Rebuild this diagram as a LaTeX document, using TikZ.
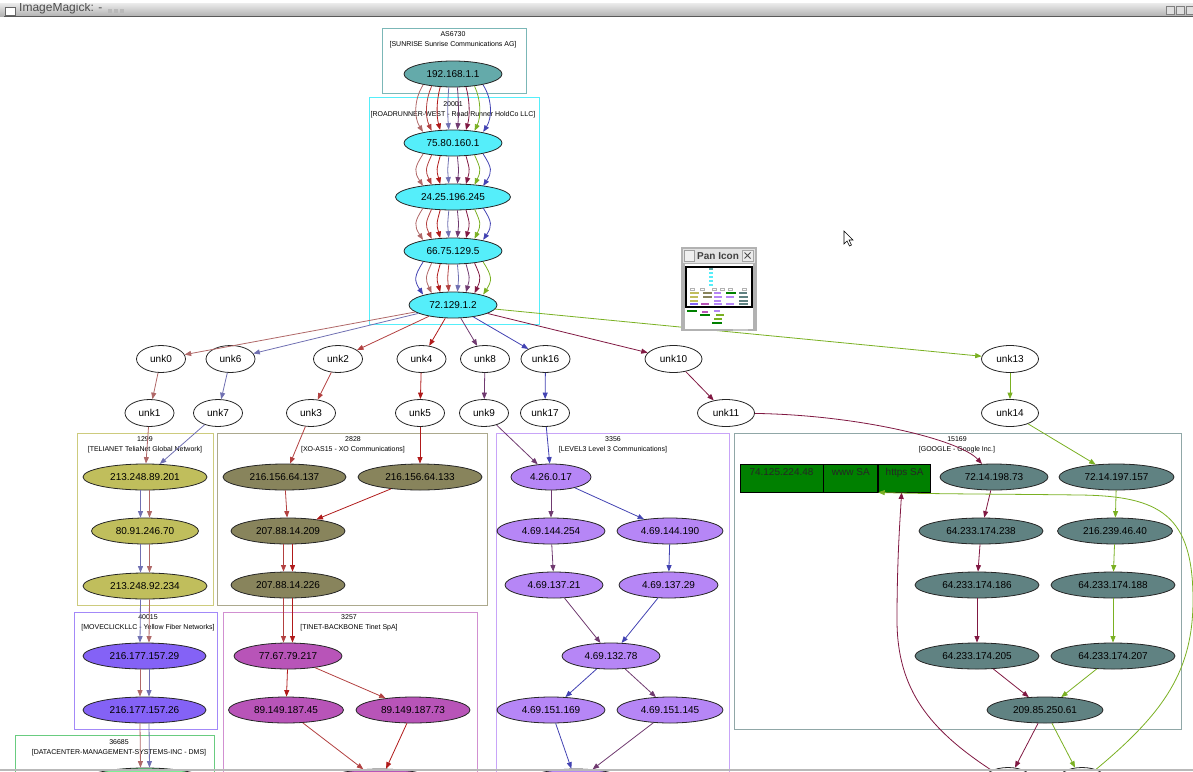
\documentclass[tikz,border=0pt]{standalone}
\usepackage{fontspec}
\setmainfont{Liberation Sans}
\usepackage{tikz}
\usetikzlibrary{arrows.meta,positioning,shapes.geometric}

% AS fills
\definecolor{asteal}{RGB}{100,170,170}
\definecolor{rrcyan}{RGB}{85,238,250}
\definecolor{teliaol}{RGB}{192,190,92}
\definecolor{xool}{RGB}{136,132,92}
\definecolor{moveblue}{RGB}{132,98,246}
\definecolor{tinetmg}{RGB}{184,84,184}
\definecolor{lvlpurp}{RGB}{182,134,246}
\definecolor{googsl}{RGB}{96,130,130}
\definecolor{dmsgreen}{RGB}{124,240,150}
\definecolor{recgreen}{RGB}{0,128,0}
% path colours
\definecolor{pzero}{RGB}{176,104,104}
\definecolor{psix}{RGB}{112,112,178}
\definecolor{ptwo}{RGB}{178,64,64}
\definecolor{pfour}{RGB}{176,26,26}
\definecolor{peight}{RGB}{112,58,112}
\definecolor{psixteen}{RGB}{66,66,178}
\definecolor{pten}{RGB}{128,24,66}
\definecolor{pthirteen}{RGB}{122,176,34}

\begin{document}
\begin{tikzpicture}[x=1pt,y=-1pt,
  ipnode/.style={ellipse,draw=black!85,line width=0.8pt,inner sep=0pt,minimum height=26pt,font=\fontsize{10}{12}\selectfont},
  unknode/.style={ipnode,fill=white,minimum width=49pt,minimum height=27pt},
  asbox/.style={line width=1pt},
  aslabel/.style={align=center,inner sep=0pt,font=\fontsize{7}{9.5}\selectfont},
  hop/.style={line width=0.8pt,-{Triangle[length=6.5pt,width=5pt]}},
  recpart/.style={rectangle,draw=black,fill=recgreen,line width=0.8pt,minimum height=28pt,inner sep=0pt,text height=7pt,text depth=12pt,font=\fontsize{10}{12}\selectfont,text=black!85}]
\useasboundingbox (0,0) rectangle (1193,771);
\begin{scope}
\clip (0,0) rectangle (1193,771);

% clusters
\draw[asbox,draw=asteal!85!white] (382,28) rectangle (526,93);
\draw[asbox,draw=rrcyan] (369,97) rectangle (539,324);
\draw[asbox,draw=teliaol!80!white] (77,433) rectangle (213,605);
\draw[asbox,draw=xool!70!white] (217,433) rectangle (487,605);
\draw[asbox,draw=lvlpurp!75!white] (496,433) rectangle (729,800);
\draw[asbox,draw=googsl!70!white] (734,433) rectangle (1181,729);
\draw[asbox,draw=moveblue!75!white] (74,612) rectangle (217,729);
\draw[asbox,draw=tinetmg!65!white] (223,612) rectangle (477,800);
\draw[asbox,draw=dmsgreen!85!black] (15,735) rectangle (214,800);
\node[aslabel] (lab6730) at (453,40) {AS6730\\{}[SUNRISE Sunrise Communications AG]};
\node[aslabel] (lab20001) at (453,110) {20001\\{}[ROADRUNNER-WEST - Road Runner HoldCo LLC]};
\node[aslabel] (lab1299) at (145,445) {1299\\{}[TELIANET TeliaNet Global Network]};
\node[aslabel] (lab2828) at (353,445) {2828\\{}[XO-AS15 - XO Communications]};
\node[aslabel] (lab3356) at (613,445) {3356\\{}[LEVEL3 Level 3 Communications]};
\node[aslabel] (lab15169) at (957,445) {15169\\{}[GOOGLE - Google Inc.]};
\node[aslabel] (lab40015) at (148,623) {40015\\{}[MOVECLICKLLC - Yellow Fiber Networks]};
\node[aslabel] (lab3257) at (349,623) {3257\\{}[TINET-BACKBONE Tinet SpA]};
\node[aslabel] (lab36685) at (119,748) {36685\\{}[DATACENTER-MANAGEMENT-SYSTEMS-INC - DMS]};

% hops
\node[ipnode,fill=asteal,minimum width=98pt] (n192) at (453,74) {192.168.1.1};
\node[ipnode,fill=rrcyan,minimum width=98pt] (n75) at (453,143) {75.80.160.1};
\node[ipnode,fill=rrcyan,minimum width=115pt] (n24) at (453,197) {24.25.196.245};
\node[ipnode,fill=rrcyan,minimum width=98pt] (n66) at (453,251) {66.75.129.5};
\node[ipnode,fill=rrcyan,minimum width=88pt] (n72) at (453,305) {72.129.1.2};

\node[unknode] (unk0) at (161,359) {unk0};
\node[unknode] (unk6) at (230.5,359) {unk6};
\node[unknode] (unk2) at (338,359) {unk2};
\node[unknode] (unk4) at (421.5,359) {unk4};
\node[unknode] (unk8) at (485,359) {unk8};
\node[unknode] (unk16) at (545.5,359) {unk16};
\node[unknode,minimum width=57pt] (unk10) at (673.5,359) {unk10};
\node[unknode,minimum width=57pt] (unk13) at (1010,359) {unk13};
\node[unknode] (unk1) at (149.5,413) {unk1};
\node[unknode] (unk7) at (218,413) {unk7};
\node[unknode] (unk3) at (311,413) {unk3};
\node[unknode] (unk5) at (420,413) {unk5};
\node[unknode] (unk9) at (484,413) {unk9};
\node[unknode] (unk17) at (545,413) {unk17};
\node[unknode,minimum width=57pt] (unk11) at (726,413) {unk11};
\node[unknode,minimum width=57pt] (unk14) at (1010,413) {unk14};

\node[ipnode,fill=teliaol,minimum width=124pt] (t201) at (145,477) {213.248.89.201};
\node[ipnode,fill=teliaol,minimum width=107pt] (t70) at (145,531) {80.91.246.70};
\node[ipnode,fill=teliaol,minimum width=124pt] (t234) at (145,586) {213.248.92.234};

\node[ipnode,fill=xool,minimum width=123pt] (x137) at (284.5,477) {216.156.64.137};
\node[ipnode,fill=xool,minimum width=124pt] (x133) at (420,477) {216.156.64.133};
\node[ipnode,fill=xool,minimum width=114pt] (x209) at (288,531) {207.88.14.209};
\node[ipnode,fill=xool,minimum width=114pt] (x226) at (288,585) {207.88.14.226};

\node[ipnode,fill=moveblue,minimum width=123pt] (m29) at (144.5,656) {216.177.157.29};
\node[ipnode,fill=moveblue,minimum width=123pt] (m26) at (144.5,710) {216.177.157.26};
\node[ipnode,fill=dmsgreen,minimum width=124pt] (dms) at (145,781) {};

\node[ipnode,fill=tinetmg,minimum width=108pt] (t217) at (288,656) {77.67.79.217};
\node[ipnode,fill=tinetmg,minimum width=115pt] (t45) at (286,710) {89.149.187.45};
\node[ipnode,fill=tinetmg,minimum width=114pt] (t73) at (413,710) {89.149.187.73};
\node[ipnode,fill=tinetmg,minimum width=110pt] (tbot) at (380,782) {};

\node[ipnode,fill=lvlpurp,minimum width=80pt] (l17) at (551,477) {4.26.0.17};
\node[ipnode,fill=lvlpurp,minimum width=108pt] (l254) at (551,531) {4.69.144.254};
\node[ipnode,fill=lvlpurp,minimum width=106pt] (l190) at (670,531) {4.69.144.190};
\node[ipnode,fill=lvlpurp,minimum width=98pt] (l21) at (554,585) {4.69.137.21};
\node[ipnode,fill=lvlpurp,minimum width=99pt] (l29) at (668.5,585) {4.69.137.29};
\node[ipnode,fill=lvlpurp,minimum width=98pt] (l78) at (611,656) {4.69.132.78};
\node[ipnode,fill=lvlpurp,minimum width=108pt] (l169) at (551,710) {4.69.151.169};
\node[ipnode,fill=lvlpurp,minimum width=106pt] (l145) at (670,710) {4.69.151.145};
\node[ipnode,fill=lvlpurp,minimum width=100pt] (lbot) at (576,782) {};

\node[recpart,minimum width=83pt] (recip) at (781.5,478) {74.125.224.48};
\node[recpart,minimum width=54pt,right=0pt of recip] (recwww) {www SA};
\node[recpart,minimum width=52pt,right=0pt of recwww] (rechttps) {https SA};
\node[ipnode,fill=googsl,minimum width=108pt] (g73) at (994,477) {72.14.198.73};
\node[ipnode,fill=googsl,minimum width=115pt] (g157) at (1116.5,477) {72.14.197.157};
\node[ipnode,fill=googsl,minimum width=124pt] (g238) at (981,531) {64.233.174.238};
\node[ipnode,fill=googsl,minimum width=115pt] (g40) at (1115,531) {216.239.46.40};
\node[ipnode,fill=googsl,minimum width=124pt] (g186) at (977,585) {64.233.174.186};
\node[ipnode,fill=googsl,minimum width=124pt] (g188) at (1113,585) {64.233.174.188};
\node[ipnode,fill=googsl,minimum width=124pt] (g205) at (977,656) {64.233.174.205};
\node[ipnode,fill=googsl,minimum width=124pt] (g207) at (1113,656) {64.233.174.207};
\node[ipnode,fill=googsl,minimum width=116pt] (g61) at (1045,710) {209.85.250.61};
\node[unknode,minimum width=50pt] (gwl) at (1008,781) {};
\node[unknode,minimum width=50pt] (gwr) at (1082,781) {};

% bundles through the first hops
\foreach \a/\b in {n192/n75,n75/n24,n24/n66}{
  \foreach \c [count=\i from 0] in {pzero,ptwo,pfour,psix,peight,pten,pthirteen,psixteen}{
    \pgfmathsetmacro\dx{-30+8.6*\i}
    \draw[hop,\c] ([xshift=\dx,yshift={0.0025*(\dx)*(\dx)}]\a.south) .. controls +(0.3*\dx,14) and +(0.3*\dx,-14) .. ([xshift=\dx,yshift={-0.0025*(\dx)*(\dx)}]\b.north);
  }
}
\foreach \c [count=\i from 0] in {psixteen,pzero,pfour,ptwo,psix,peight,pten,pthirteen}{
  \pgfmathsetmacro\dx{-30+8.6*\i}
  \draw[hop,\c] ([xshift=\dx,yshift={0.0025*(\dx)*(\dx)}]n66.south) .. controls +(0.3*\dx,14) and +(0.3*\dx,-14) .. ([xshift=\dx,yshift={-0.0032*(\dx)*(\dx)}]n72.north);
}

% fan out to the unknown hops
\draw[hop,pzero] (n72) -- (unk0);
\draw[hop,psix] (n72) -- (unk6);
\draw[hop,ptwo] (n72) -- (unk2);
\draw[hop,pfour] (n72) -- (unk4);
\draw[hop,peight] (n72) -- (unk8);
\draw[hop,psixteen] (n72) -- (unk16);
\draw[hop,pten] (n72) -- (unk10);
\draw[hop,pthirteen] (n72) -- (unk13);
\draw[hop,pzero] (unk0) -- (unk1);
\draw[hop,psix] (unk6) -- (unk7);
\draw[hop,ptwo] (unk2) -- (unk3);
\draw[hop,pfour] (unk4) -- (unk5);
\draw[hop,peight] (unk8) -- (unk9);
\draw[hop,psixteen] (unk16) -- (unk17);
\draw[hop,pten] (unk10) -- (unk11);
\draw[hop,pthirteen] (unk13) -- (unk14);

% telianet / moveclick
\draw[hop,pzero] (unk1) -- (t201);
\draw[hop,psix] (unk7) -- (t201);
\foreach \a/\b in {t201/t70,t70/t234,t234/m29}{
  \draw[hop,psix] ([xshift=-4.5]\a.south) -- ([xshift=-4.5]\b.north);
  \draw[hop,pzero] ([xshift=4.5]\a.south) -- ([xshift=4.5]\b.north);
}
\foreach \a/\b in {m29/m26,m26/dms}{
  \draw[hop,pzero] ([xshift=-4.5]\a.south) -- ([xshift=-4.5]\b.north);
  \draw[hop,psix] ([xshift=4.5]\a.south) -- ([xshift=4.5]\b.north);
}

% xo / tinet
\draw[hop,ptwo] (unk3) -- (x137);
\draw[hop,pfour] (unk5) -- (x133);
\draw[hop,ptwo] (x137) -- (x209);
\draw[hop,pfour] (x133) -- (x209);
\foreach \a/\b in {x209/x226,x226/t217}{
  \draw[hop,ptwo] ([xshift=-4.5]\a.south) -- ([xshift=-4.5]\b.north);
  \draw[hop,pfour] ([xshift=4.5]\a.south) -- ([xshift=4.5]\b.north);
}
\draw[hop,pfour] (t217) -- (t45);
\draw[hop,ptwo] (t217) -- (t73);
\draw[hop,ptwo] (t45) -- (tbot);
\draw[hop,pfour] (t73) -- (tbot);

% level3
\draw[hop,peight] (unk9) -- (l17);
\draw[hop,psixteen] (unk17) -- (l17);
\draw[hop,peight] (l17) -- (l254);
\draw[hop,psixteen] (l17) -- (l190);
\draw[hop,peight] (l254) -- (l21);
\draw[hop,psixteen] (l190) -- (l29);
\draw[hop,peight] (l21) -- (l78);
\draw[hop,psixteen] (l29) -- (l78);
\draw[hop,psixteen] (l78) -- (l169);
\draw[hop,peight] (l78) -- (l145);
\draw[hop,psixteen] (l169) -- (lbot);
\draw[hop,peight] (l145) -- (lbot);

% google
\draw[hop,pten] (unk11) .. controls (860,415) and (960,440) .. (g73);
\draw[hop,pthirteen] (unk14) -- (g157);
\draw[hop,pten] (g73) -- (g238);
\draw[hop,pten] (g238) -- (g186);
\draw[hop,pten] (g186) -- (g205);
\draw[hop,pten] (g205) -- (g61);
\draw[hop,pthirteen] (g157) -- (g40);
\draw[hop,pthirteen] (g40) -- (g188);
\draw[hop,pthirteen] (g188) -- (g207);
\draw[hop,pthirteen] (g207) -- (g61);
\draw[hop,pten] (g61) -- (gwl);
\draw[hop,pthirteen] (g61) -- (gwr);
\draw[hop,pten] (gwl) .. controls (930,730) and (897,690) .. (897,620) .. controls (897,560) and (900,520) .. ([xshift=-3]rechttps.south);
\draw[hop,pthirteen] (gwr) .. controls (1165,712) and (1193,670) .. (1193,600) .. controls (1193,515) and (1160,496) .. (1080,495) .. controls (1000,494) and (930,494) .. (rechttps.south west);

% pan icon window
\fill[gray!60] (681,247) rectangle (757,331);
\fill[gray!22] (683,249) rectangle (755,263);
\draw[gray!75,fill=gray!12] (684,250) rectangle (694,261);
\node[anchor=west,inner sep=0pt,text=black!75,font=\bfseries\fontsize{10}{10}\selectfont] (pantitle) at (697,256) {Pan Icon};
\draw[gray!70,fill=gray!15] (742,250) rectangle (753,261);
\draw[black!70,line width=0.8pt] (744.5,252.5) -- (750.5,258.5) (744.5,258.5) -- (750.5,252.5);
\fill[white] (685,264) rectangle (753,329);
\draw[black,line width=1.2pt] (686,267) rectangle (752,307);
\foreach \px/\py/\pw/\pc in {709/268/4/asteal,709/272/4/rrcyan,709/276/4/rrcyan,709/280/4/rrcyan,709/284/4/rrcyan,
  690/292/9/teliaol,703/292/9/xool,714/292/7/lvlpurp,726/292/10/recgreen,739/292/8/googsl,
  690/296/8/teliaol,703/296/9/xool,714/296/8/lvlpurp,726/296/8/lvlpurp,739/296/9/googsl,
  690/300/8/teliaol,714/300/7/lvlpurp,739/300/9/googsl,
  690/303/8/moveblue,701/303/8/tinetmg,714/303/8/lvlpurp,726/303/8/lvlpurp,739/303/9/googsl,
  687/310/10/recgreen,702/311/6/tinetmg,714/310/6/lvlpurp,700/314/10/recgreen,716/314/8/pthirteen,714/318/8/pthirteen,712/322/10/recgreen}
  \fill[\pc] (\px,\py) rectangle (\px+\pw,\py+2);
\foreach \px in {690,700,712,720,728,742}
  \draw[gray!60,line width=0.3pt] (\px,288) rectangle (\px+4,290);
\fill[gray!45] (733,329) rectangle (748,330.5);

% mouse pointer
\filldraw[fill=white,draw=black,line width=0.6pt] (844,231) -- (844,244) -- (847,241) -- (849.5,246) -- (851.5,245) -- (849,240) -- (853,240) -- cycle;

% window title bar
\begin{scope}
\clip (0,3) rectangle (1193,16);
\shade[top color=gray!15,bottom color=gray!60] (0,3) rectangle (1193,16);
\node[anchor=base west,inner sep=0pt,text=black!70,font=\fontsize{12}{12}\selectfont] (wintitle) at (19,11.5) {ImageMagick: -};
\end{scope}
\draw[black!65,line width=1pt] (4,16) -- (1193,16);
\draw[black!60,fill=white] (5,7) rectangle (15,15);
\foreach \bx in {108,114,120}
  \fill[gray!55] (\bx,9) rectangle (\bx+4,13);
\foreach \bx in {1166,1176,1186}
  \draw[black!50,fill=gray!25] (\bx,6) rectangle (\bx+8,14);

% lower window edge
\fill[gray!55] (0,768.5) rectangle (1193,771);
\end{scope}
\end{tikzpicture}
\end{document}
